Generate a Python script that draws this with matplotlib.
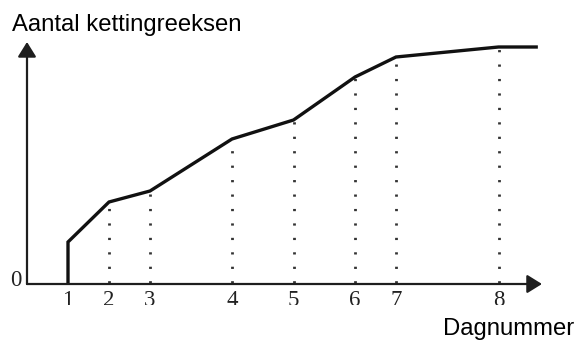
import matplotlib
matplotlib.use("Agg")
import matplotlib.pyplot as plt
from matplotlib.transforms import Bbox

plt.rcParams["lines.scale_dashes"] = False

# Data
day_labels = ["1", "2", "3", "4", "5", "6", "7", "8"]
day_positions = [1, 2, 3, 5, 6.5, 8, 9, 11.5]
chain_counts = [42, 82, 93, 145, 164, 207, 227, 237]
curve_end_position = 12.46
y_title = "Aantal kettingreeksen"
x_title = "Dagnummer"

W, H = 575, 340
fig = plt.figure(figsize=(W / 100, H / 100), dpi=100)
fig.patch.set_facecolor("white")

x0_px, base_px = 27, 284
unit_px = 41
xmax, ymax = 13, 270
ax = fig.add_axes([x0_px / W, (H - base_px) / H, xmax * unit_px / W, ymax / H])
ax.set_xlim(0, xmax)
ax.set_ylim(0, ymax)
ax.axis("off")

axis_col = "#1e1e1e"
# axes with arrows
ax.annotate("", xy=(12.56, 0), xytext=(0, 0),
            arrowprops=dict(arrowstyle="-|>,head_length=0.45,head_width=0.28",
                            lw=1.6, color=axis_col, shrinkA=0, shrinkB=0,
                            mutation_scale=20), annotation_clip=False)
ax.annotate("", xy=(0, 242), xytext=(0, 0),
            arrowprops=dict(arrowstyle="-|>,head_length=0.45,head_width=0.28",
                            lw=1.6, color=axis_col, shrinkA=0, shrinkB=0,
                            mutation_scale=20), annotation_clip=False)

# dotted guide lines (~14.5 px spacing, in points since dashes not scaled)
for pos, val in zip(day_positions[1:], chain_counts[1:]):
    ax.plot([pos, pos], [0, val], color="#333333", lw=2.0,
            linestyle=(9.6, (1.6, 8.8)), solid_capstyle="butt", clip_on=False)

# curve
cx = [day_positions[0]] + day_positions + [curve_end_position]
cy = [0] + chain_counts + [chain_counts[-1]]
ax.plot(cx, cy, color="#111111", lw=2.4, solid_joinstyle="miter",
        solid_capstyle="butt", clip_on=False)

# tick labels (serif), clipped at bottom like reference
clip = Bbox.from_extents(0, H - 305, W, H)
for pos, lab in zip(day_positions, day_labels):
    t = ax.text(pos, -6, lab, ha="center", va="top", family="Liberation Serif",
                fontsize=16.5, color="#222222")
    t.set_clip_box(clip)
    t.set_clip_on(True)
ax.text(-5 / unit_px, 3, "0", ha="right", va="center", family="Liberation Serif",
        fontsize=16.5, color="#222222", clip_on=False)

fig.text(12 / W, 1 - 31 / H, y_title, ha="left", va="baseline",
         family="Liberation Sans", fontsize=17.2, color="black")
fig.text(574 / W, 1 - 335 / H, x_title, ha="right", va="baseline",
         family="Liberation Sans", fontsize=17.2, color="black")

fig.savefig("out.png", dpi=100)
